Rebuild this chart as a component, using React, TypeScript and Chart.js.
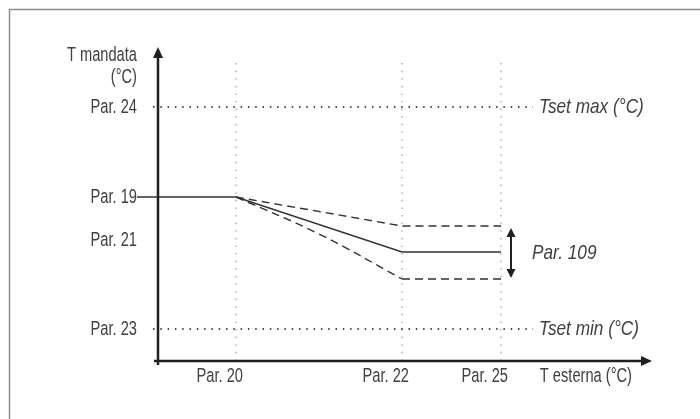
import React, { useEffect, useRef } from 'react';
import { Chart, registerables } from 'chart.js';

Chart.register(...registerables);

// ---- data (diagram units) ----
const xTickValues = [7.8, 24.4, 34.3, 46.7];
const xTickLabels = ['Par. 20', 'Par. 22', 'Par. 25', 'T esterna (°C)'];
const yTickValues = [3.2, 12.1, 16.4, 25.4, 29.5];
const yTickLabels: (string | string[])[] = ['Par. 23', 'Par. 21', 'Par. 19', 'Par. 24', ['T mandata', '(°C)']];

const solidX = [-2.1, 7.8, 24.4, 34.3];
const solidY = [16.4, 16.4, 10.9, 10.9];
const upperX = [7.8, 24.4, 34.3];
const upperY = [16.4, 13.5, 13.5];
const lowerCurveX = [7.8, 16.1, 24.4];
const lowerCurveY = [16.4, 12.7, 8.2];
const lowerFlatX = [24.4, 34.3];
const lowerFlatY = [8.2, 8.2];

const hDotX = [-0.5, 37.5];
const hDotLevels = [25.4, 3.2]; // Tset max, Tset min
const vDotX = [7.8, 24.4, 34.3];
const vDotY = [0, 29.9];

const rangeArrowX = 35.3;
const rangeArrowY = [8.3, 13.3];

const noteTexts = ['Tset max (°C)', 'Tset min (°C)', 'Par. 109'];
const noteX = [38.1, 38.1, 37.4];
const noteY = [25.4, 3.2, 10.8];

const xMin = -1.8;
const xMax = 49.4;
const yMin = 0;
const yMax = 31.4;

const FAMILY = '"Liberation Sans", Arial, sans-serif';
const TEXT = '#404040';
const INK = '#231f20';
const LINE = '#333333';

const pts = (xs: number[], ys: number[]) => xs.map((x, i) => ({ x, y: ys[i] }));

function condensedText(ctx: CanvasRenderingContext2D, text: string, x: number, y: number, align: CanvasTextAlign, italic = false) {
  const size = italic ? 21 : 20.5;
  const squeeze = italic ? 0.82 : 0.715;
  ctx.save();
  ctx.font = `${italic ? 'italic ' : ''}${size}px ${FAMILY}`;
  ctx.fillStyle = TEXT;
  ctx.textAlign = align;
  ctx.textBaseline = 'middle';
  ctx.translate(x, y);
  ctx.scale(squeeze, 1);
  ctx.fillText(text, 0, 0);
  ctx.restore();
}

const diagramPlugin = {
  id: 'diagram',
  beforeDraw(chart: any) {
    const ctx = chart.ctx;
    ctx.save();
    ctx.strokeStyle = '#8c8c8c';
    ctx.lineWidth = 1.5;
    ctx.beginPath();
    ctx.moveTo(9.5, chart.height);
    ctx.lineTo(9.5, 9.5);
    ctx.lineTo(chart.width, 9.5);
    ctx.stroke();
    ctx.restore();
  },
  afterDatasetsDraw(chart: any) {
    const ctx = chart.ctx;
    const xs = chart.scales.x;
    const ys = chart.scales.y;
    const x0 = xs.getPixelForValue(0);
    const y0 = ys.getPixelForValue(0);
    const xEnd = xs.getPixelForValue(xMax);
    const yTop = ys.getPixelForValue(yMax);
    ctx.save();
    ctx.strokeStyle = INK;
    ctx.fillStyle = INK;
    ctx.lineWidth = 2.5;
    // y axis
    ctx.beginPath();
    ctx.moveTo(x0, y0 + 4);
    ctx.lineTo(x0, yTop + 8);
    ctx.stroke();
    // x axis
    ctx.beginPath();
    ctx.moveTo(x0 - 4, y0);
    ctx.lineTo(xEnd - 8, y0);
    ctx.stroke();
    // arrow heads
    ctx.beginPath();
    ctx.moveTo(x0, yTop);
    ctx.lineTo(x0 - 5, yTop + 11);
    ctx.lineTo(x0 + 5, yTop + 11);
    ctx.closePath();
    ctx.fill();
    ctx.beginPath();
    ctx.moveTo(xEnd, y0);
    ctx.lineTo(xEnd - 11, y0 - 5);
    ctx.lineTo(xEnd - 11, y0 + 5);
    ctx.closePath();
    ctx.fill();

    // range double arrow
    const ax = xs.getPixelForValue(rangeArrowX);
    const aLow = ys.getPixelForValue(rangeArrowY[0]);
    const aHigh = ys.getPixelForValue(rangeArrowY[1]);
    ctx.lineWidth = 2;
    ctx.beginPath();
    ctx.moveTo(ax, aHigh + 6);
    ctx.lineTo(ax, aLow - 6);
    ctx.stroke();
    ctx.beginPath();
    ctx.moveTo(ax, aHigh);
    ctx.lineTo(ax - 4.5, aHigh + 9);
    ctx.lineTo(ax + 4.5, aHigh + 9);
    ctx.closePath();
    ctx.fill();
    ctx.beginPath();
    ctx.moveTo(ax, aLow);
    ctx.lineTo(ax - 4.5, aLow - 9);
    ctx.lineTo(ax + 4.5, aLow - 9);
    ctx.closePath();
    ctx.fill();
    ctx.restore();

    // tick labels (positions from the library's scales)
    const yRight = ys.right - 3;
    ys.ticks.forEach((t: any, i: number) => {
      const py = ys.getPixelForValue(t.value);
      const lab = yTickLabels[i];
      if (Array.isArray(lab)) {
        const lh = 22;
        const start = py - ((lab.length - 1) * lh) / 2;
        lab.forEach((l, k) => condensedText(ctx, l, yRight, start + k * lh, 'right'));
      } else {
        condensedText(ctx, lab, yRight, py, 'right');
      }
    });
    const xLabelY = xs.top + 15;
    xs.ticks.forEach((t: any, i: number) => {
      condensedText(ctx, xTickLabels[i], xs.getPixelForValue(t.value) + 7, xLabelY, 'right');
    });

    // italic notes
    noteTexts.forEach((t, i) => {
      condensedText(ctx, t, xs.getPixelForValue(noteX[i]), ys.getPixelForValue(noteY[i]), 'left', true);
    });
  },
};

export default function App() {
  const ref = useRef<HTMLCanvasElement | null>(null);
  useEffect(() => {
    if (!ref.current) return;
    const dotted = (data: any[], color: string, width: number, dash: number[]) => ({
      data,
      borderColor: color,
      borderWidth: width,
      borderDash: dash,
      pointRadius: 0,
      fill: false,
      clip: false,
      order: 5,
    });
    const datasets: any[] = [
      { data: pts(solidX, solidY), borderColor: LINE, borderWidth: 1.5, pointRadius: 0, fill: false, clip: false, order: 1 },
      { data: pts(upperX, upperY), borderColor: LINE, borderWidth: 1.4, borderDash: [8, 5], pointRadius: 0, fill: false, clip: false, order: 2 },
      { data: pts(lowerCurveX, lowerCurveY), borderColor: LINE, borderWidth: 1.4, borderDash: [8, 5], tension: 0.4, pointRadius: 0, fill: false, clip: false, order: 2 },
      { data: pts(lowerFlatX, lowerFlatY), borderColor: LINE, borderWidth: 1.4, borderDash: [8, 5], pointRadius: 0, fill: false, clip: false, order: 2 },
      ...hDotLevels.map((lv) => dotted(pts(hDotX, [lv, lv]), '#111', 1.5, [1.5, 5.8])),
      ...vDotX.map((vx) => dotted(pts([vx, vx], vDotY), '#b8b8b8', 1.6, [1.6, 6])),
    ];
    const chart = new Chart(ref.current, {
      type: 'line',
      data: { datasets },
      plugins: [diagramPlugin],
      options: {
        animation: false,
        responsive: true,
        maintainAspectRatio: false,
        devicePixelRatio: 1,
        layout: { padding: { left: 0, top: 47, right: 48, bottom: 28 } },
        plugins: { legend: { display: false }, tooltip: { enabled: false }, title: { display: false } },
        scales: {
          x: {
            type: 'linear',
            min: xMin,
            max: xMax,
            bounds: 'data',
            grid: { display: false, drawTicks: false },
            border: { display: false },
            afterBuildTicks: (s: any) => {
              s.ticks = xTickValues.map((v) => ({ value: v }));
            },
            afterFit: (s: any) => {
              s.height = 30;
            },
            ticks: { display: false, autoSkip: false },
          },
          y: {
            type: 'linear',
            min: yMin,
            max: yMax,
            bounds: 'data',
            grid: { display: false, drawTicks: false },
            border: { display: false },
            afterBuildTicks: (s: any) => {
              s.ticks = yTickValues.map((v) => ({ value: v }));
            },
            afterFit: (s: any) => {
              s.width = 140;
            },
            ticks: { display: false, autoSkip: false },
          },
        },
      },
    });
    return () => chart.destroy();
  }, []);
  return (
    <div style={{ position: 'absolute', left: 0, top: 0, width: 700, height: 419, background: '#fff' }}>
      <canvas ref={ref} />
    </div>
  );
}
